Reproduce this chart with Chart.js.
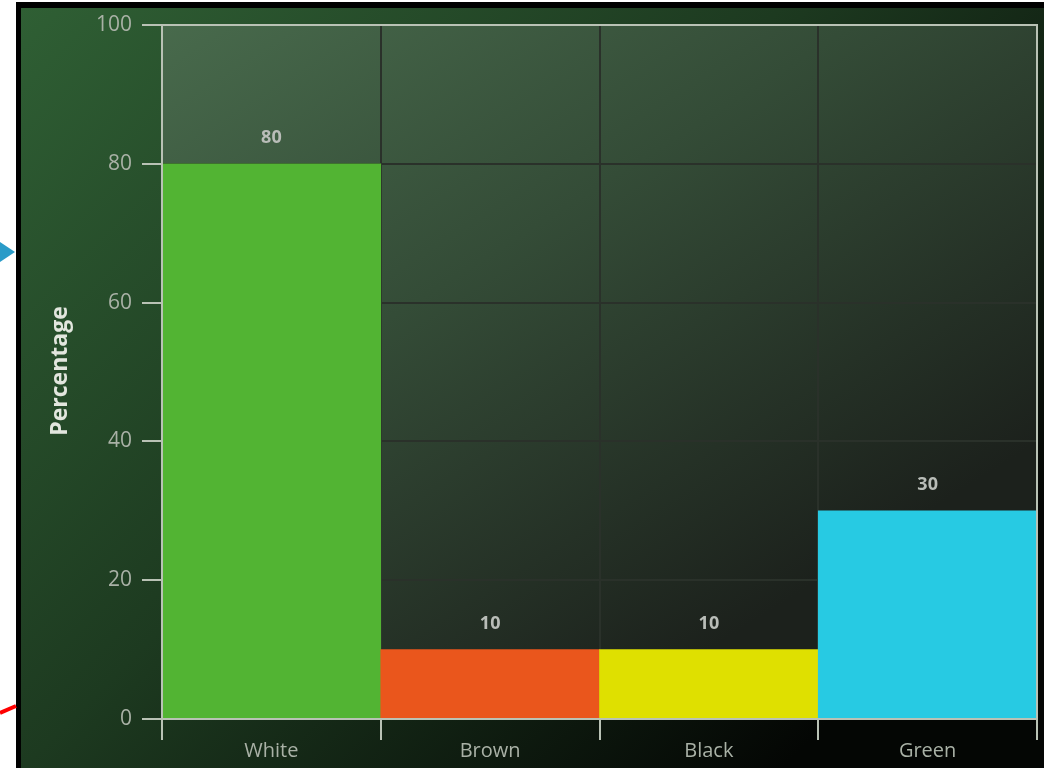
<!DOCTYPE html>
<html>
<head>
<meta charset="utf-8">
<script src="https://cdn.jsdelivr.net/npm/chart.js@4"></script>
<style>
  html, body { margin: 0; padding: 0; background: #ffffff; }
  #wrap { position: relative; width: 1044px; height: 768px; }
  canvas { display: block; }
</style>
</head>
<body>
<div id="wrap"><canvas id="chart" width="1044" height="768"></canvas></div>
<script>
// Category names and the share of each one, in percent
const categories = ['White', 'Brown', 'Black', 'Green'];
const percentages = [80, 10, 10, 30];
const barColors = ['#52b433', '#ea561c', '#dfe000', '#27cae3'];
const yTicks = [0, 20, 40, 60, 80, 100];

const FONT = '"Open Sans", "DejaVu Sans", sans-serif';

// Page frame, backgrounds and decorations
const backdrop = {
  id: 'backdrop',
  beforeDraw(chart) {
    const { ctx, width, height, chartArea: a } = chart;
    ctx.save();
    ctx.fillStyle = '#ffffff';
    ctx.fillRect(0, 0, width, height);
    // black frame on top and left
    ctx.fillStyle = '#000000';
    ctx.fillRect(16, 2, width - 16, 6);
    ctx.fillRect(16, 2, 5, height - 2);
    // outer green panel
    const g = ctx.createLinearGradient(20, 8, width * 0.75, height);
    g.addColorStop(0, '#2f5f34');
    g.addColorStop(0.5, '#1d3a20');
    g.addColorStop(1, '#040604');
    ctx.fillStyle = g;
    ctx.fillRect(21, 8, width - 21, height - 8);
    // plot panel
    const w = a.right - a.left, h = a.bottom - a.top;
    const p = ctx.createLinearGradient(a.left, a.top, a.left + w * 0.5, a.bottom);
    p.addColorStop(0, '#486a4c');
    p.addColorStop(0.45, '#344c37');
    p.addColorStop(1, '#1c211c');
    ctx.fillStyle = p;
    ctx.fillRect(a.left, a.top, w, h);
    // blue pointer at left edge
    ctx.fillStyle = '#2a9bc8';
    ctx.beginPath();
    ctx.moveTo(0, 242);
    ctx.lineTo(15, 252);
    ctx.lineTo(0, 262);
    ctx.closePath();
    ctx.fill();
    // red stroke at lower left
    ctx.strokeStyle = '#ff0000';
    ctx.lineWidth = 4;
    ctx.beginPath();
    ctx.moveTo(0, 713);
    ctx.lineTo(16, 706);
    ctx.stroke();
    ctx.restore();
  },
  afterDraw(chart) {
    const { ctx, chartArea: a } = chart;
    ctx.save();
    // light frame around the plot
    ctx.strokeStyle = '#b9c2b5';
    ctx.lineWidth = 2;
    ctx.strokeRect(a.left, a.top, a.right - a.left, a.bottom - a.top);
    // value labels above the bars
    const meta = chart.getDatasetMeta(0);
    ctx.fillStyle = '#b9bdb8';
    ctx.font = 'bold 18px ' + FONT;
    ctx.textAlign = 'center';
    ctx.textBaseline = 'middle';
    meta.data.forEach((bar, i) => {
      ctx.fillText(String(percentages[i]), bar.x, bar.y - 26);
    });
    // axis title
    ctx.translate(60, 371);
    ctx.rotate(-Math.PI / 2);
    ctx.fillStyle = '#e2e6de';
    ctx.font = 'bold 23px ' + FONT;
    ctx.fillText('Percentage', 0, 0);
    ctx.restore();
  }
};

new Chart(document.getElementById('chart'), {
  type: 'bar',
  data: {
    labels: categories,
    datasets: [{
      data: percentages,
      backgroundColor: barColors,
      borderWidth: 0,
      categoryPercentage: 1.0,
      barPercentage: 1.0
    }]
  },
  options: {
    responsive: false,
    animation: false,
    devicePixelRatio: 1,
    layout: { padding: { top: 25, right: 7, left: 0, bottom: 0 } },
    plugins: { legend: { display: false }, tooltip: { enabled: false } },
    scales: {
      x: {
        grid: {
          offset: true,
          color: '#2a312a',
          lineWidth: 2,
          tickColor: '#b9c2b5',
          tickLength: 21,
          drawTicks: true
        },
        border: { color: '#b9c2b5', width: 2 },
        ticks: {
          color: '#a9b1a6',
          font: { family: FONT, size: 20 },
          padding: -1
        },
        afterFit(scale) { scale.height = 49; }
      },
      y: {
        min: 0,
        max: 100,
        afterBuildTicks(scale) { scale.ticks = yTicks.map(v => ({ value: v })); },
        grid: {
          color: '#2a312a',
          lineWidth: 2,
          tickColor: '#b9c2b5',
          tickLength: 20
        },
        border: { color: '#b9c2b5', width: 2 },
        ticks: {
          color: '#a9b1a6',
          font: { family: FONT, size: 21 },
          padding: 10
        },
        afterFit(scale) { scale.width = 162; }
      }
    }
  },
  plugins: [backdrop]
});
</script>
</body>
</html>
